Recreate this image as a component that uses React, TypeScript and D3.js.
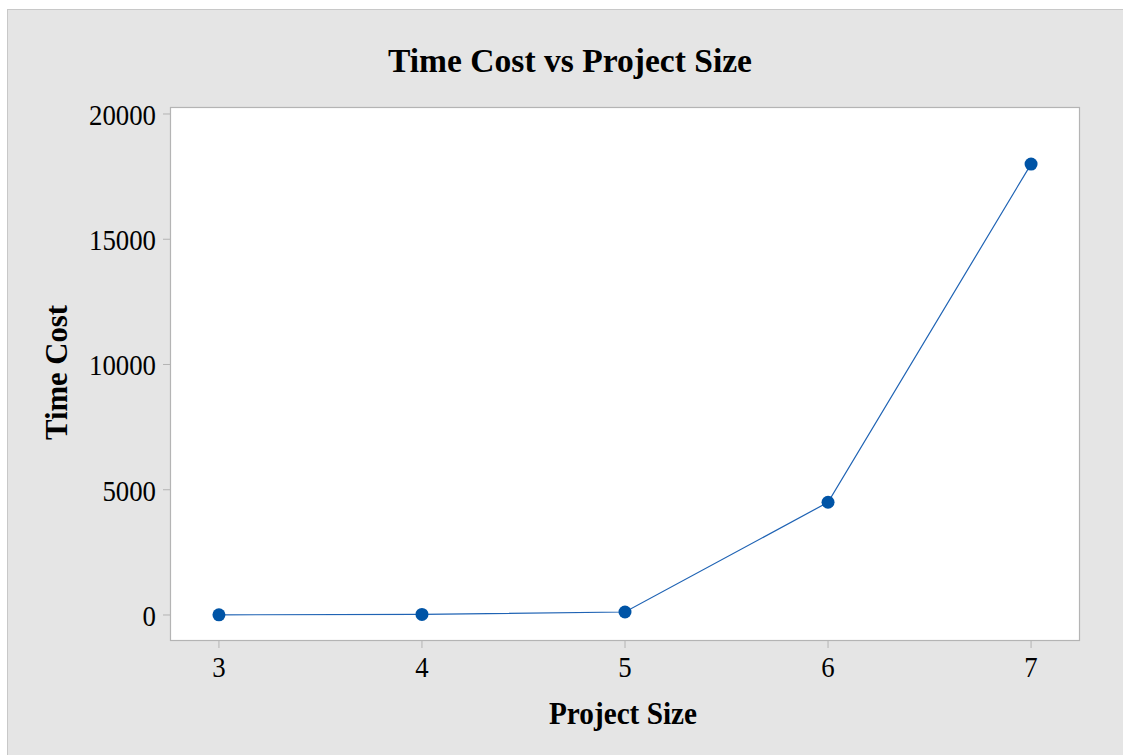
import React from "react";
import * as d3 from "d3";

const projectSizes = [3, 4, 5, 6, 7];
const timeCosts = [6, 24, 120, 4500, 18000];
const yTicks = [0, 5000, 10000, 15000, 20000];
const xTicks = [3, 4, 5, 6, 7];

const W = 1123;
const H = 755;
const plot = { left: 170, right: 1080, top: 107, bottom: 641 };

export default function App() {
  const x = d3.scaleLinear().domain([2.759, 7.241]).range([plot.left, plot.right]);
  const y = d3.scaleLinear().domain([-1038, 20279]).range([plot.bottom, plot.top]);
  const pts = projectSizes.map((s, i) => [s, timeCosts[i]] as [number, number]);
  const line = d3
    .line<[number, number]>()
    .x((d) => x(d[0]))
    .y((d) => y(d[1]));
  const font = "'Liberation Serif', 'Times New Roman', serif";
  const digitW = 13.4;
  return (
    <svg
      width={W}
      height={H}
      style={{ position: "absolute", left: 0, top: 0 }}
      fontFamily={font}
    >
      <rect x={0} y={0} width={W} height={H} fill="#ffffff" />
      <rect x={7.5} y={9.5} width={W + 10} height={H + 10} fill="#e5e5e5" stroke="#c8c8c8" strokeWidth={1} />
      <text
        x={570}
        y={72}
        textAnchor="middle"
        fontSize={33}
        fontWeight="bold"
        fill="#000"
        textLength={364}
        lengthAdjust="spacingAndGlyphs"
      >
        Time Cost vs Project Size
      </text>
      <rect
        x={plot.left + 0.5}
        y={plot.top + 0.5}
        width={plot.right - plot.left - 1}
        height={plot.bottom - plot.top - 1}
        fill="#ffffff"
        stroke="#b4b4b4"
        strokeWidth={1.2}
      />
      {yTicks.map((t) => (
        <g key={"y" + t}>
          <line x1={plot.left - 7} x2={plot.left} y1={y(t)} y2={y(t)} stroke="#b4b4b4" strokeWidth={1} />
          <text
            x={156}
            y={y(t) + 11}
            textAnchor="end"
            fontSize={29}
            fill="#000"
            textLength={digitW * String(t).length}
            lengthAdjust="spacingAndGlyphs"
          >
            {t}
          </text>
        </g>
      ))}
      {xTicks.map((t) => (
        <g key={"x" + t}>
          <line x1={x(t)} x2={x(t)} y1={plot.bottom} y2={plot.bottom + 7} stroke="#b4b4b4" strokeWidth={1} />
          <text
            x={x(t)}
            y={677}
            textAnchor="middle"
            fontSize={29}
            fill="#000"
            textLength={digitW}
            lengthAdjust="spacingAndGlyphs"
          >
            {t}
          </text>
        </g>
      ))}
      <text
        x={623}
        y={724}
        textAnchor="middle"
        fontSize={32}
        fontWeight="bold"
        fill="#000"
        textLength={148}
        lengthAdjust="spacingAndGlyphs"
      >
        Project Size
      </text>
      <text
        transform={`translate(67, 372.5) rotate(-90)`}
        textAnchor="middle"
        fontSize={32}
        fontWeight="bold"
        fill="#000"
        textLength={135}
        lengthAdjust="spacingAndGlyphs"
      >
        Time Cost
      </text>
      <path d={line(pts) || ""} fill="none" stroke="#1f63b4" strokeWidth={1.2} />
      {pts.map((d, i) => (
        <circle key={i} cx={x(d[0])} cy={y(d[1])} r={6.5} fill="#0054a6" />
      ))}
    </svg>
  );
}
